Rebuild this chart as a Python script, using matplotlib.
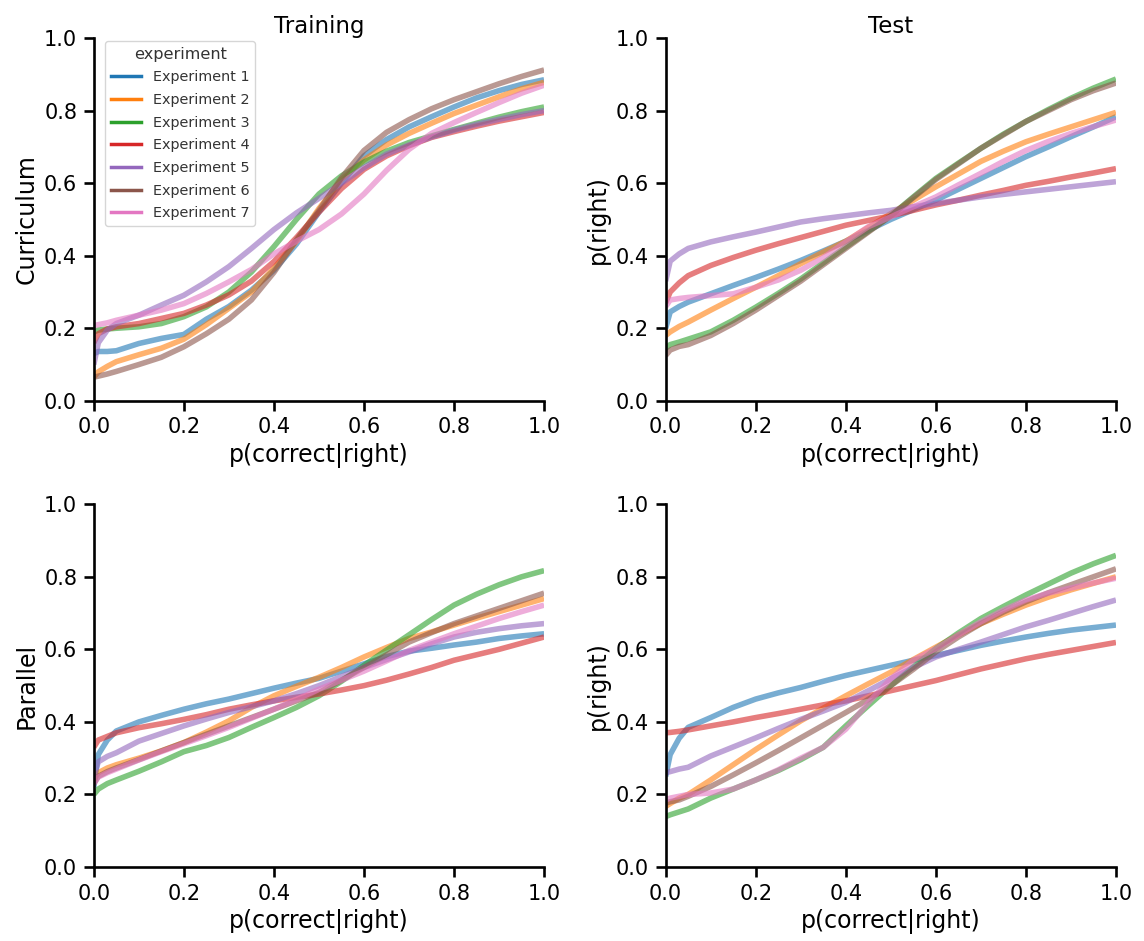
import numpy as np
import matplotlib
matplotlib.use("Agg")
import matplotlib.pyplot as plt
from matplotlib.lines import Line2D

p_correct = [0, 0.01, 0.03, 0.05, 0.1, 0.15, 0.2, 0.25, 0.3, 0.35, 0.4, 0.45,
             0.5, 0.55, 0.6, 0.65, 0.7, 0.75, 0.8, 0.85, 0.9, 0.95, 1.0]

experiments = ["Experiment 1", "Experiment 2", "Experiment 3", "Experiment 4",
               "Experiment 5", "Experiment 6", "Experiment 7"]

# curriculum, training
curr_train = [
    [0.13, 0.136, 0.136, 0.138, 0.158, 0.172, 0.183, 0.225, 0.26, 0.305, 0.36, 0.432, 0.52, 0.60, 0.675, 0.72, 0.755, 0.783, 0.81, 0.835, 0.855, 0.872, 0.885],
    [0.065, 0.08, 0.095, 0.108, 0.127, 0.145, 0.17, 0.21, 0.255, 0.30, 0.365, 0.44, 0.53, 0.61, 0.664, 0.705, 0.737, 0.765, 0.792, 0.815, 0.838, 0.86, 0.878],
    [0.19, 0.195, 0.198, 0.20, 0.204, 0.213, 0.232, 0.259, 0.30, 0.355, 0.425, 0.50, 0.57, 0.62, 0.658, 0.688, 0.712, 0.73, 0.748, 0.765, 0.782, 0.797, 0.81],
    [0.16, 0.185, 0.198, 0.204, 0.213, 0.227, 0.241, 0.264, 0.292, 0.33, 0.384, 0.45, 0.52, 0.585, 0.638, 0.675, 0.703, 0.726, 0.742, 0.757, 0.771, 0.783, 0.795],
    [0.10, 0.16, 0.195, 0.213, 0.236, 0.264, 0.291, 0.328, 0.37, 0.42, 0.472, 0.518, 0.558, 0.60, 0.643, 0.68, 0.705, 0.727, 0.746, 0.762, 0.776, 0.789, 0.80],
    [0.065, 0.068, 0.074, 0.081, 0.10, 0.12, 0.149, 0.185, 0.225, 0.278, 0.354, 0.444, 0.525, 0.615, 0.69, 0.74, 0.775, 0.805, 0.83, 0.852, 0.874, 0.894, 0.912],
    [0.207, 0.21, 0.215, 0.222, 0.236, 0.25, 0.268, 0.296, 0.328, 0.362, 0.405, 0.44, 0.472, 0.515, 0.57, 0.635, 0.693, 0.737, 0.767, 0.795, 0.822, 0.848, 0.87],
]

# curriculum, test
curr_test = [
    [0.20, 0.245, 0.26, 0.272, 0.295, 0.318, 0.34, 0.363, 0.387, 0.413, 0.44, 0.47, 0.50, 0.527, 0.553, 0.583, 0.613, 0.643, 0.673, 0.70, 0.728, 0.755, 0.783],
    [0.18, 0.19, 0.205, 0.217, 0.25, 0.282, 0.313, 0.345, 0.378, 0.41, 0.44, 0.478, 0.516, 0.553, 0.59, 0.625, 0.66, 0.688, 0.714, 0.735, 0.755, 0.775, 0.795],
    [0.145, 0.155, 0.162, 0.17, 0.19, 0.222, 0.258, 0.296, 0.336, 0.38, 0.424, 0.467, 0.51, 0.562, 0.613, 0.655, 0.696, 0.735, 0.77, 0.803, 0.834, 0.862, 0.887],
    [0.27, 0.30, 0.325, 0.345, 0.373, 0.395, 0.415, 0.433, 0.45, 0.467, 0.484, 0.497, 0.51, 0.525, 0.54, 0.553, 0.567, 0.58, 0.594, 0.605, 0.617, 0.628, 0.64],
    [0.33, 0.385, 0.405, 0.42, 0.438, 0.452, 0.465, 0.479, 0.493, 0.502, 0.51, 0.518, 0.525, 0.535, 0.544, 0.553, 0.562, 0.569, 0.576, 0.583, 0.59, 0.597, 0.604],
    [0.125, 0.14, 0.15, 0.155, 0.18, 0.213, 0.25, 0.29, 0.33, 0.375, 0.42, 0.465, 0.51, 0.56, 0.61, 0.653, 0.696, 0.733, 0.77, 0.80, 0.83, 0.855, 0.876],
    [0.26, 0.278, 0.282, 0.285, 0.29, 0.295, 0.313, 0.333, 0.36, 0.395, 0.438, 0.48, 0.507, 0.535, 0.562, 0.595, 0.627, 0.66, 0.69, 0.715, 0.737, 0.756, 0.774],
]

# parallel, training
par_train = [
    [0.22, 0.31, 0.35, 0.375, 0.40, 0.418, 0.435, 0.45, 0.463, 0.478, 0.493, 0.507, 0.52, 0.54, 0.56, 0.58, 0.595, 0.603, 0.612, 0.62, 0.63, 0.637, 0.643],
    [0.24, 0.26, 0.273, 0.282, 0.30, 0.32, 0.343, 0.372, 0.403, 0.44, 0.472, 0.498, 0.523, 0.55, 0.579, 0.605, 0.63, 0.648, 0.667, 0.686, 0.704, 0.722, 0.74],
    [0.20, 0.215, 0.23, 0.24, 0.264, 0.29, 0.318, 0.335, 0.357, 0.385, 0.412, 0.44, 0.472, 0.512, 0.556, 0.598, 0.64, 0.682, 0.722, 0.752, 0.778, 0.80, 0.817],
    [0.33, 0.35, 0.36, 0.37, 0.384, 0.395, 0.407, 0.42, 0.435, 0.447, 0.458, 0.468, 0.477, 0.488, 0.50, 0.515, 0.532, 0.55, 0.57, 0.585, 0.60, 0.617, 0.634],
    [0.25, 0.29, 0.305, 0.315, 0.347, 0.368, 0.389, 0.408, 0.426, 0.442, 0.458, 0.478, 0.50, 0.525, 0.55, 0.572, 0.593, 0.615, 0.634, 0.647, 0.657, 0.665, 0.671],
    [0.23, 0.25, 0.263, 0.273, 0.296, 0.32, 0.343, 0.366, 0.389, 0.412, 0.435, 0.458, 0.481, 0.515, 0.55, 0.585, 0.62, 0.646, 0.671, 0.692, 0.713, 0.734, 0.755],
    [0.23, 0.248, 0.26, 0.27, 0.295, 0.318, 0.34, 0.362, 0.385, 0.41, 0.435, 0.462, 0.49, 0.515, 0.54, 0.568, 0.597, 0.62, 0.643, 0.664, 0.685, 0.704, 0.722],
]

# parallel, test
par_test = [
    [0.25, 0.31, 0.355, 0.385, 0.412, 0.44, 0.463, 0.48, 0.495, 0.512, 0.528, 0.542, 0.556, 0.57, 0.583, 0.597, 0.611, 0.623, 0.634, 0.644, 0.653, 0.66, 0.667],
    [0.167, 0.175, 0.19, 0.20, 0.24, 0.282, 0.324, 0.364, 0.403, 0.438, 0.472, 0.505, 0.537, 0.572, 0.606, 0.64, 0.671, 0.697, 0.722, 0.744, 0.764, 0.782, 0.80],
    [0.139, 0.144, 0.152, 0.16, 0.19, 0.215, 0.24, 0.266, 0.296, 0.33, 0.389, 0.445, 0.50, 0.552, 0.602, 0.645, 0.685, 0.718, 0.75, 0.78, 0.81, 0.836, 0.859],
    [0.37, 0.371, 0.374, 0.378, 0.389, 0.40, 0.412, 0.423, 0.435, 0.447, 0.458, 0.472, 0.486, 0.50, 0.514, 0.53, 0.546, 0.56, 0.574, 0.586, 0.597, 0.608, 0.619],
    [0.26, 0.263, 0.27, 0.275, 0.306, 0.331, 0.356, 0.382, 0.407, 0.43, 0.454, 0.486, 0.519, 0.55, 0.579, 0.60, 0.62, 0.641, 0.662, 0.68, 0.699, 0.718, 0.736],
    [0.176, 0.18, 0.185, 0.195, 0.222, 0.254, 0.287, 0.321, 0.356, 0.391, 0.426, 0.462, 0.50, 0.545, 0.593, 0.634, 0.671, 0.703, 0.731, 0.756, 0.778, 0.80, 0.822],
    [0.185, 0.19, 0.195, 0.20, 0.204, 0.215, 0.24, 0.268, 0.30, 0.33, 0.38, 0.453, 0.519, 0.57, 0.602, 0.64, 0.676, 0.708, 0.736, 0.755, 0.769, 0.783, 0.796],
]

colors = plt.rcParams["axes.prop_cycle"].by_key()["color"][:7]

plt.rcParams["axes.linewidth"] = 1.9
plt.rcParams["xtick.major.width"] = 1.9
plt.rcParams["ytick.major.width"] = 1.9
plt.rcParams["xtick.major.size"] = 7
plt.rcParams["ytick.major.size"] = 7
plt.rcParams["xtick.major.pad"] = 5
plt.rcParams["ytick.major.pad"] = 5
plt.rcParams["xtick.labelsize"] = 15
plt.rcParams["ytick.labelsize"] = 15
plt.rcParams["axes.labelsize"] = 17
plt.rcParams["axes.titlesize"] = 16.5

fig, axs = plt.subplots(2, 2, figsize=(11.44, 9.41), dpi=100)
fig.subplots_adjust(left=0.082, right=0.9755, top=0.9596, bottom=0.0786,
                    wspace=0.27, hspace=0.285)

panels = [[curr_train, curr_test], [par_train, par_test]]
for r in range(2):
    for c in range(2):
        ax = axs[r][c]
        for i, curve in enumerate(panels[r][c]):
            ax.plot(p_correct, curve, color=colors[i], lw=4, alpha=0.6,
                    solid_capstyle="butt", solid_joinstyle="round")
        ax.set_xlim(0, 1)
        ax.set_ylim(0, 1)
        ax.set_xticks(np.arange(0, 1.01, 0.2))
        ax.set_yticks(np.arange(0, 1.01, 0.2))
        ax.spines["top"].set_visible(False)
        ax.spines["right"].set_visible(False)
        ax.set_xlabel("p(correct|right)", labelpad=4)

axs[0][0].set_title("Training", pad=3)
axs[0][1].set_title("Test", pad=3)
axs[0][0].set_ylabel("Curriculum")
axs[1][0].set_ylabel("Parallel")
axs[0][1].set_ylabel("p(right)")
axs[1][1].set_ylabel("p(right)")

handles = [Line2D([0], [0], color=colors[i], lw=2.5) for i in range(7)]
leg = axs[0][0].legend(handles, experiments, title="experiment", loc="upper left",
                       fontsize=10.4, title_fontsize=11.6, handlelength=2.1,
                       bbox_to_anchor=(0.009, 1.012), labelspacing=0.6)
for t in leg.get_texts():
    t.set_color("#333333")
leg.get_title().set_color("#333333")

fig.savefig("out.png", dpi=100)
